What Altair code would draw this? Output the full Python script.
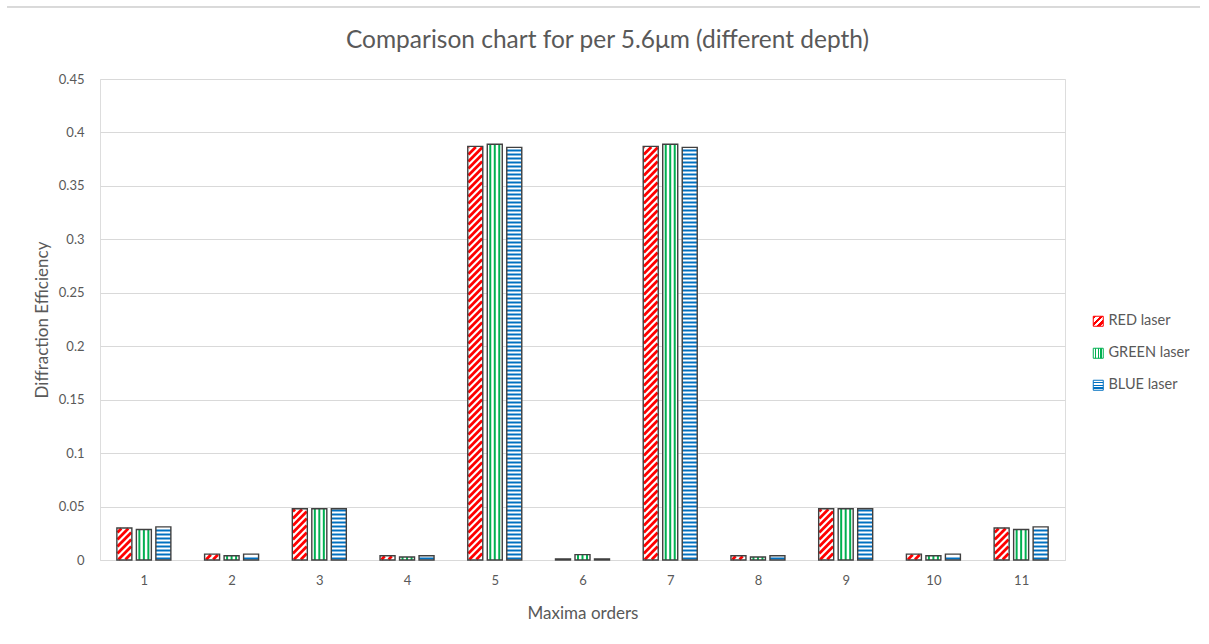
import json
import altair as alt
import pandas as pd

# ---------------- data ----------------
orders = list(range(1, 12))
series_names = ["RED laser", "GREEN laser", "BLUE laser"]
red_vals = [0.030, 0.0055, 0.048, 0.004, 0.387, 0.001, 0.387, 0.004, 0.048, 0.0055, 0.030]
green_vals = [0.0285, 0.004, 0.048, 0.0028, 0.389, 0.005, 0.389, 0.0028, 0.048, 0.004, 0.0285]
blue_vals = [0.031, 0.0055, 0.048, 0.004, 0.386, 0.001, 0.386, 0.004, 0.048, 0.0055, 0.031]
colors = ["#FF0000", "#00B050", "#0070C0"]
y_ticks = [0, 0.05, 0.1, 0.15, 0.2, 0.25, 0.3, 0.35, 0.4, 0.45]

rows = []
for name, vals in zip(series_names, [red_vals, green_vals, blue_vals]):
    for o, v in zip(orders, vals):
        rows.append({"order": o, "series": name, "value": v})
df = pd.DataFrame(rows)

# ---------------- layout constants ----------------
W, H = 965, 481
XMIN, XMAX = 0.5, 11.5
YMAX = 0.45
PX = (XMAX - XMIN) / W   # x data units per pixel
PY = YMAX / H            # y data units per pixel
BAR = 15.0               # bar width (px)
SHIFT = 19.5             # distance between bars of a group (px)

FONT = "Lato"
TXT = "#595959"
GRID = "#D9D9D9"
EDGE = "#404040"

slot = "(datum.series == 'RED laser' ? -1 : (datum.series == 'BLUE laser' ? 1 : 0))"

base = alt.Chart(df).transform_calculate(
    cx=f"datum.order + {SHIFT * PX} * {slot}"
).transform_calculate(
    xl=f"datum.cx - {BAR / 2 * PX}",
    xr=f"datum.cx + {BAR / 2 * PX}",
    hpx=f"datum.value / {PY}",
)

x_axis = alt.Axis(
    values=orders, format="d", title="Maxima orders", grid=False, ticks=False,
    domain=True, domainColor=GRID, domainWidth=1,
    labelColor=TXT, labelFontSize=13, labelFont=FONT, labelPadding=14,
    titleColor=TXT, titleFontSize=17, titleFont=FONT, titleFontWeight="normal",
    titlePadding=18,
)
y_axis = alt.Axis(
    values=y_ticks, format="~g", title="Diffraction Efficiency", grid=True,
    gridColor=GRID, gridWidth=1, ticks=False, domain=False,
    labelColor=TXT, labelFontSize=13, labelFont=FONT, labelPadding=16,
    titleColor=TXT, titleFontSize=17, titleFont=FONT, titleFontWeight="normal",
    titlePadding=7,
)
x_scale = alt.Scale(domain=[XMIN, XMAX], nice=False, zero=False)
y_scale = alt.Scale(domain=[0, YMAX], nice=False)


def X(f):
    return alt.X(f, type="quantitative", scale=x_scale, axis=x_axis)


def Y(f):
    return alt.Y(f, type="quantitative", scale=y_scale, axis=y_axis)


def grad(x2, y2, pattern):
    n = len(pattern)
    stops = []
    for i, c in enumerate(pattern):
        stops.append({"offset": round(i / n, 4), "color": c})
        stops.append({"offset": round((i + 1) / n, 4), "color": c})
    return json.dumps({"gradient": "linear", "x1": 0, "y1": 0, "x2": x2, "y2": y2, "stops": stops})


wht = "#FFFFFF"
g_red = grad(1, 1, [colors[0], wht, colors[0], wht, colors[0], wht])
g_green = grad(1, 0, [wht, colors[1], wht, colors[1], wht, colors[1], wht])
g_blue = grad(0, 1, [wht, colors[2], wht, colors[2], wht, colors[2], wht])
sym_fill = (f"datum.value == 'RED laser' ? {g_red} : "
            f"(datum.value == 'GREEN laser' ? {g_green} : {g_blue})")

legend = alt.Legend(
    title=None, orient="none", legendX=991, legendY=235, symbolType="square",
    symbolSize=100, symbolStrokeWidth=1, labelFontSize=14.5, labelFont=FONT,
    labelColor=TXT, rowPadding=16, labelOffset=3, padding=0, symbolOpacity=1,
    symbolFillColor=alt.ExprRef(expr=sym_fill),
)
stroke_enc = alt.Stroke("series:N", scale=alt.Scale(domain=series_names, range=colors), legend=legend)

# white bar bodies
bodies = base.mark_rect(fill="white", strokeWidth=0).encode(
    x=X("xl"), x2="xr", y=Y("value"), y2=alt.datum(0)
)

# red: upward diagonal stripes
P_RED = 7.0
red_layer = base.transform_filter("datum.series == 'RED laser'").transform_calculate(
    cs=f"sequence({-BAR}, datum.hpx, {P_RED})"
).transform_flatten(["cs"]).transform_calculate(
    s0="max(0.6, 0.6 - datum.cs)",
    s1=f"min({BAR - 0.6}, datum.hpx - 0.6 - datum.cs)",
).transform_filter("datum.s1 > datum.s0").transform_calculate(
    rx1=f"datum.xl + datum.s0 * {PX}",
    rx2=f"datum.xl + datum.s1 * {PX}",
    ry1=f"(datum.cs + datum.s0) * {PY}",
    ry2=f"(datum.cs + datum.s1) * {PY}",
).mark_rule(strokeWidth=2.8).encode(
    x=X("rx1"), x2="rx2", y=Y("ry1"), y2="ry2", stroke=stroke_enc
)

# green: vertical stripes
green_layer = base.transform_filter("datum.series == 'GREEN laser'").transform_calculate(
    gx=f"sequence(datum.xl + {3.0 * PX}, datum.xr - {1.5 * PX}, {4.5 * PX})"
).transform_flatten(["gx"]).mark_rule(strokeWidth=2).encode(
    x=X("gx"), y=Y("value"), y2=alt.datum(0), stroke=stroke_enc
)

# blue: horizontal stripes
blue_layer = base.transform_filter("datum.series == 'BLUE laser'").transform_calculate(
    by=f"sequence({1.5 * PY}, datum.value - {1.0 * PY}, {4.0 * PY})"
).transform_flatten(["by"]).mark_rule(strokeWidth=2).encode(
    x=X("xl"), x2="xr", y=Y("by"), stroke=stroke_enc
)

# bar outlines
outlines = base.mark_rect(fillOpacity=0, stroke=EDGE, strokeWidth=1.4).encode(
    x=X("xl"), x2="xr", y=Y("value"), y2=alt.datum(0)
)

# chart-area top border (decoration)
border = alt.Chart(df).mark_rule(color="#D9D9D9", strokeWidth=1).encode(
    x=alt.value(-93), x2=alt.value(1100), y=alt.value(-72)
)

chart = alt.layer(bodies, red_layer, green_layer, blue_layer, outlines, border).properties(
    width=W, height=H,
    title=alt.TitleParams(
        text="Comparison chart for per 5.6μm (different depth)",
        font=FONT, fontSize=24.5, fontWeight="normal", color=TXT,
        anchor="middle", dx=25, offset=-47,
    ),
    padding={"left": 100, "top": 79, "right": 144, "bottom": 84},
    autosize=alt.AutoSizeParams(type="none"),
).configure_view(stroke="transparent", strokeWidth=0, strokeOpacity=0).configure(background="white")

chart.save("out.html", embed_options={"renderer": "svg", "actions": False})
